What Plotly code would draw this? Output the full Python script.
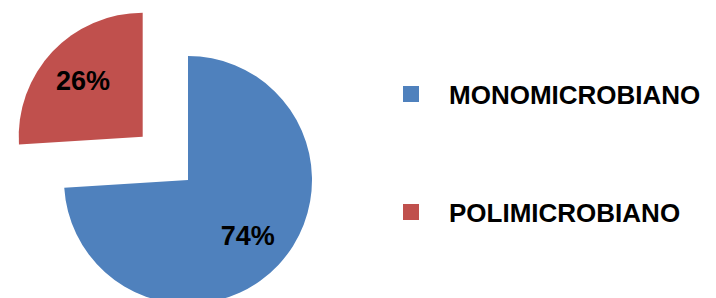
import plotly.graph_objects as go

# ---- data ----
categories = ["MONOMICROBIANO", "POLIMICROBIANO"]
values = [74, 26]
colors = ["#4F81BD", "#C0504D"]

W, H = 716, 298
OFF = 8  # page offset of the figure inside the window
FONT = "Liberation Sans Narrow, Arial Narrow, Liberation Sans, Arial, sans-serif"
CLEAR = "rgba(0,0,0,0)"


def domain(cx, cy, r):
    cx, cy = cx - OFF, cy - OFF
    return dict(x=[(cx - r) / W, (cx + r) / W], y=[1 - (cy + r) / H, 1 - (cy - r) / H])


R = 124
BLUE_DOM = domain(188, 180, R)
RED_DOM = domain(142.7, 136.7, R)
TXT = dict(family=FONT, size=27, color="black", weight="bold")

common = dict(labels=categories, values=values, sort=False, direction="clockwise",
              rotation=0, showlegend=False, hoverinfo="skip")

fig = go.Figure()
# main (blue) slice, drawn in place
fig.add_trace(go.Pie(marker=dict(colors=[colors[0], CLEAR], line=dict(width=0)),
                     textinfo="none", domain=BLUE_DOM, **common))
# exploded (red) slice
fig.add_trace(go.Pie(marker=dict(colors=[CLEAR, colors[1]], line=dict(width=0)),
                     textinfo="none", domain=RED_DOM, **common))
# percentage labels (transparent ring so labels sit further out, as in the original)
for dom, tmpl in ((BLUE_DOM, ["%{percent:.0%}", ""]), (RED_DOM, ["", "%{percent:.0%}"])):
    fig.add_trace(go.Pie(marker=dict(colors=[CLEAR, CLEAR], line=dict(width=0)),
                         hole=0.32, texttemplate=tmpl, textposition="inside",
                         insidetextorientation="horizontal", textfont=TXT,
                         domain=dom, **common))
# legend entries
for i, (name, col) in enumerate(zip(categories, colors)):
    fig.add_trace(go.Scatter(
        x=[None], y=[None], mode="markers", name=name,
        marker=dict(symbol="square", size=16, color=col),
        legend="legend" if i == 0 else "legend2",
    ))

legend_style = dict(font=dict(family=FONT, size=26, color="black", weight="bold"),
                    bgcolor="rgba(0,0,0,0)", borderwidth=0, itemwidth=66,
                    xanchor="left", yanchor="middle")
LEG_X = (373 - OFF) / W
fig.update_layout(
    width=W, height=H, margin=dict(l=0, r=0, t=0, b=0),
    paper_bgcolor="white", plot_bgcolor="white",
    xaxis=dict(visible=False), yaxis=dict(visible=False),
    legend=dict(x=LEG_X, y=1 - (94 - OFF) / H, **legend_style),
    legend2=dict(x=LEG_X, y=1 - (212 - OFF) / H, **legend_style),
)
fig.write_html("out.html")
